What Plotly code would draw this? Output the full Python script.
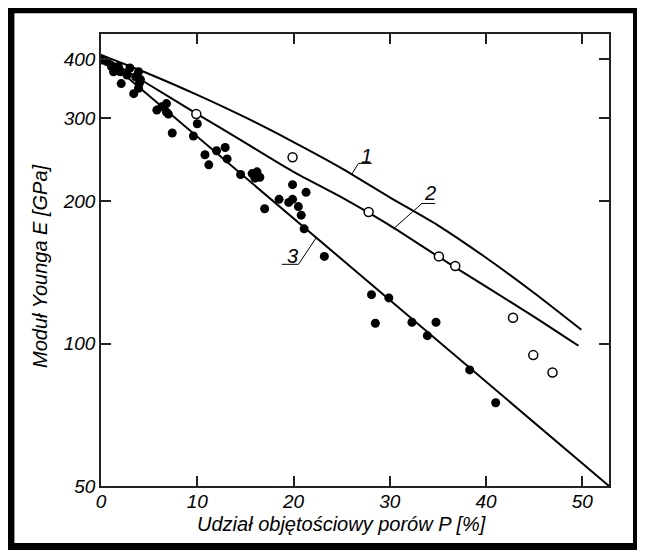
import math
import plotly.graph_objects as go

# ---- data ----
curve1_P = [0, 5, 10, 15, 20, 25, 30, 35, 40, 45, 49.9]
curve1_E = [408, 372, 336, 301, 267, 235, 204, 178, 152, 128, 107]

curve2_P = [0, 5, 10, 15, 20, 25, 30, 35, 40, 45, 49.6]
curve2_E = [408, 353, 306, 266, 231, 204, 178, 153, 132, 114, 99]

curve3_P = [0, 52.77]
curve3_E = [408, 50]

open_P = [9.9, 19.9, 27.8, 35.1, 36.8, 42.8, 44.9, 46.9]
open_E = [306, 248, 190, 153, 146, 113.5, 94.6, 86.9]

filled_P = [0.2, 0.6, 1.1, 1.3, 1.8, 2.0, 2.1, 2.7, 3.0, 3.4, 3.6, 3.9, 4.0, 4.1, 3.9,
            5.8, 6.3, 6.8, 6.8, 7.0, 7.4,
            9.6, 10.0, 10.8, 11.2, 12.0, 12.9, 13.1, 14.5, 15.7, 16.2, 16.5, 16.0,
            17.0, 18.5, 19.5, 19.9, 19.9, 21.3, 20.5, 20.8, 21.1, 23.2,
            28.1, 29.9, 28.5, 32.3, 34.8, 33.9, 38.3, 41.0]
filled_E = [398, 395, 385, 376, 386, 376, 355, 370, 383, 338, 367, 376, 356, 362, 347,
            312, 317, 322, 309, 306, 279,
            275, 292, 251, 239, 256, 260, 246, 228, 229, 231, 225, 224,
            193, 202, 199, 202, 217, 209, 195, 187, 175, 153,
            127, 125, 110.5, 111, 111, 104, 88, 75]

x_ticks = [0, 10, 20, 30, 40, 50]
y_ticks = [50, 100, 200, 300, 400]
y_ticktext = ["50", "100", "200", "300", "400"]

x_title = "Udział objętościowy porów P [%]"
y_title = "Moduł Younga E [GPa]"

# curve labels: (text, label P, label E, underline P0, P1, underline E, leader end P, E, leader start P)
labels = [
    ("1", 27.62, 249, 26.75, 28.14, 240.7, 26.06, 228.5, 26.75),
    ("2", 34.2, 208, 33.34, 34.72, 198, 30.38, 175, 33.34),
    ("3", 19.93, 153, 18.78, 20.51, 147.2, 22.35, 167.5, 20.51),
]

FONT = "Liberation Sans, Arial, sans-serif"

fig = go.Figure()
fig.add_trace(go.Scatter(x=curve1_P, y=curve1_E, mode="lines",
                         line=dict(color="black", width=2, shape="spline", smoothing=0.6)))
fig.add_trace(go.Scatter(x=curve2_P, y=curve2_E, mode="lines",
                         line=dict(color="black", width=2, shape="spline", smoothing=0.6)))
fig.add_trace(go.Scatter(x=curve3_P, y=curve3_E, mode="lines",
                         line=dict(color="black", width=2)))

for txt, lp, le, u0, u1, ue, ep, ee, sp in labels:
    other = u1 if sp == u0 else u0
    fig.add_trace(go.Scatter(x=[other, sp, ep], y=[ue, ue, ee], mode="lines",
                             line=dict(color="black", width=1)))
    fig.add_annotation(x=lp, y=math.log10(le), xref="x", yref="y", text=txt,
                       showarrow=False,
                       font=dict(family=FONT, size=20, color="black", style="italic"))

fig.add_trace(go.Scatter(x=filled_P, y=filled_E, mode="markers",
                         marker=dict(color="black", size=9, line=dict(width=0))))
fig.add_trace(go.Scatter(x=open_P, y=open_E, mode="markers",
                         marker=dict(color="white", size=9,
                                     line=dict(color="black", width=1.5))))

# geometry in reference-window pixels; the page body adds an 8px margin
OFF = 8
WIN_W, WIN_H = 645, 557
L, R, T, B = 101, 609, 34, 486
pw, ph = R - L, B - T
W, H = WIN_W - OFF, WIN_H - OFF


def px(xp):
    return (xp - L) / pw


def py(yp):
    return (B - yp) / ph


fig.add_annotation(x=px(341), y=py(524), xref="paper", yref="paper", text=x_title,
                   showarrow=False, xanchor="center", yanchor="middle",
                   font=dict(family=FONT, size=20, color="black", style="italic"))
fig.add_annotation(x=px(40), y=py(266), xref="paper", yref="paper", text=y_title,
                   showarrow=False, textangle=-90, xanchor="center", yanchor="middle",
                   font=dict(family=FONT, size=20, color="black", style="italic"))

# outer black frame
fig.add_shape(type="rect", xref="paper", yref="paper",
              x0=px(10.9), x1=px(636.5), y0=py(546.5), y1=py(9.7),
              line=dict(color="black", width=7), fillcolor="rgba(0,0,0,0)", layer="above")

axis_common = dict(showgrid=False, zeroline=False, showline=True, linecolor="#222",
                   linewidth=1.5, mirror="ticks", ticks="inside", ticklen=10,
                   tickwidth=1.5, tickcolor="#222",
                   tickfont=dict(family=FONT, size=19, color="black", style="italic"))

fig.update_layout(
    width=W, height=H,
    margin=dict(l=L - OFF, r=WIN_W - R, t=T - OFF, b=WIN_H - B, pad=0),
    paper_bgcolor="white", plot_bgcolor="white",
    showlegend=False,
    xaxis=dict(range=[0, 52.77], tickvals=x_ticks, ticklabelstandoff=-3, **axis_common),
    yaxis=dict(type="log", range=[math.log10(50), math.log10(452)],
               tickvals=y_ticks, ticktext=y_ticktext, **axis_common),
)

fig.write_html("out.html")
